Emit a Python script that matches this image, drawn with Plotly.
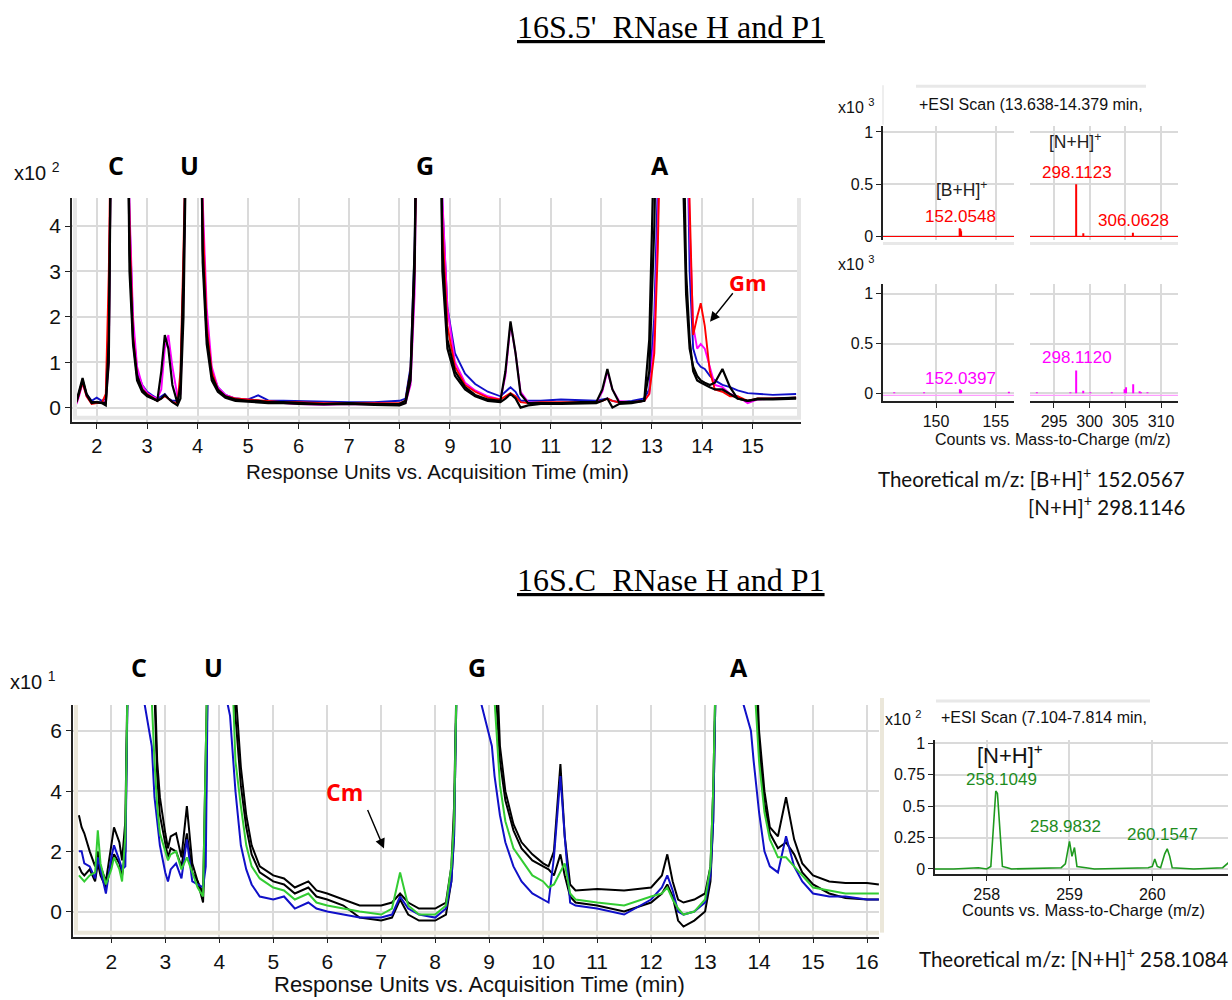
import plotly.graph_objects as go

W, H = 1232, 1000
def fx(p): return p / W
def fy(p): return 1 - p / H

# ---------------- DATA ----------------
# Top chromatogram (x10^2 response units) vs acquisition time (min)
t_top = [1.60,1.65,1.72,1.80,1.90,2.00,2.10,2.18,2.24,2.30,
         2.60,2.65,2.72,2.80,2.90,3.00,3.10,3.20,3.28,3.35,
         3.42,3.50,3.60,3.66,3.72,3.80,4.05,4.10,4.18,4.28,
         4.40,4.55,4.75,5.00,5.20,5.40,5.70,6.00,6.50,7.00,
         7.50,8.00,8.12,8.22,8.30,8.36,8.80,8.85,8.95,9.10,
         9.30,9.50,9.75,10.00,10.10,10.20,10.30,10.40,10.55,10.80,
         11.20,11.60,11.90,12.02,12.12,12.22,12.35,12.60,12.85,12.95,
         13.05,13.12,13.20,13.60,13.68,13.75,13.82,13.90,13.97,14.05,
         14.15,14.25,14.40,14.55,14.70,14.90,15.10,15.40,15.86]
top_black1 = [0.15,0.35,0.65,0.30,0.12,0.12,0.10,0.05,1.50,8.0,
              8.0,3.5,1.5,0.70,0.40,0.28,0.22,0.15,0.80,1.60,
              1.30,0.50,0.10,0.50,3.0,8.0,8.0,3.5,1.6,0.70,
              0.40,0.25,0.18,0.15,0.15,0.12,0.12,0.10,0.08,0.10,
              0.08,0.08,0.15,0.80,3.5,8.0,8.0,3.5,1.5,0.80,
              0.45,0.28,0.18,0.15,0.80,1.90,1.20,0.30,0.10,0.10,
              0.10,0.12,0.12,0.40,0.85,0.40,0.12,0.12,0.15,1.5,
              6.0,8.0,8.0,6.0,2.5,1.3,0.90,0.70,0.60,0.55,
              0.50,0.55,0.85,0.45,0.20,0.15,0.20,0.20,0.22]
top_black2 = [0.12,0.30,0.60,0.28,0.10,0.12,0.10,0.10,1.00,8.0,
              8.0,3.0,1.4,0.60,0.35,0.25,0.20,0.15,0.20,0.28,
              0.20,0.12,0.05,0.20,2.0,8.0,8.0,3.2,1.4,0.60,
              0.35,0.22,0.15,0.13,0.12,0.10,0.10,0.08,0.07,0.08,
              0.06,0.05,0.10,0.60,3.0,8.0,8.0,3.0,1.3,0.70,
              0.40,0.25,0.15,0.12,0.20,0.30,0.20,0.00,0.05,0.08,
              0.08,0.10,0.10,0.15,0.20,0.00,0.08,0.10,0.15,0.8,
              4.0,8.0,8.0,8.0,3.0,1.5,0.80,0.60,0.55,0.50,
              0.45,0.40,0.40,0.30,0.20,0.15,0.18,0.18,0.20]
top_blue = [0.18,0.30,0.55,0.30,0.15,0.22,0.15,0.20,2.0,8.0,
            8.0,4.2,1.8,0.80,0.50,0.35,0.27,0.20,0.25,0.30,
            0.20,0.15,0.15,0.40,3.0,8.0,8.0,4.0,1.8,0.80,
            0.45,0.28,0.20,0.18,0.27,0.16,0.15,0.14,0.12,0.12,
            0.12,0.15,0.20,0.90,3.5,8.0,8.0,4.5,2.2,1.20,
            0.75,0.52,0.35,0.25,0.35,0.45,0.35,0.15,0.15,0.15,
            0.18,0.16,0.15,0.18,0.20,0.15,0.12,0.15,0.20,0.4,
            2.0,5.0,8.0,8.0,8.0,3.0,1.3,1.0,0.90,0.85,
            0.70,0.60,0.50,0.45,0.38,0.32,0.30,0.28,0.30]
top_red = [0.12,0.30,0.55,0.25,0.08,0.10,0.10,0.30,3.0,8.0,
           8.0,4.0,1.6,0.70,0.40,0.30,0.22,0.15,0.20,0.25,
           0.20,0.12,0.10,0.80,3.5,8.0,8.0,4.2,1.8,0.80,
           0.40,0.25,0.20,0.18,0.15,0.15,0.12,0.12,0.10,0.10,
           0.10,0.10,0.15,0.80,3.2,8.0,8.0,4.0,1.8,0.90,
           0.50,0.35,0.22,0.18,0.25,0.32,0.25,0.12,0.10,0.12,
           0.12,0.12,0.12,0.15,0.20,0.15,0.12,0.12,0.15,0.3,
           1.2,3.5,8.0,8.0,8.0,4.5,1.6,2.0,2.3,1.8,
           0.80,0.40,0.35,0.25,0.25,0.15,0.20,0.20,0.22]
top_magenta = [0.08,0.25,0.55,0.25,0.10,0.12,0.10,0.15,1.0,8.0,
               8.0,4.4,2.0,0.90,0.50,0.32,0.25,0.20,0.40,1.30,
               1.60,0.90,0.25,0.30,2.5,8.0,8.0,4.6,2.2,0.90,
               0.45,0.28,0.20,0.17,0.16,0.12,0.10,0.08,0.06,0.08,
               0.07,0.06,0.10,0.50,2.5,8.0,8.0,4.6,2.2,1.00,
               0.55,0.38,0.25,0.18,0.70,1.85,1.20,0.35,0.12,0.10,
               0.10,0.12,0.12,0.35,0.80,0.40,0.15,0.12,0.15,0.3,
               1.5,4.0,8.0,8.0,8.0,4.0,1.8,1.3,1.4,1.3,
               0.90,0.50,0.45,0.30,0.25,0.10,0.18,0.20,0.22]

# Bottom chromatogram (x10^1 response units)
t_bot = [1.40,1.45,1.50,1.60,1.70,1.75,1.80,1.90,2.00,2.05,
         2.15,2.20,2.26,2.32,2.75,2.80,2.85,2.90,3.00,3.05,
         3.10,3.20,3.30,3.40,3.50,3.60,3.70,3.75,3.80,4.20,
         4.30,4.40,4.50,4.60,4.75,5.00,5.20,5.40,5.65,5.80,
         6.00,6.30,6.60,7.00,7.20,7.35,7.50,7.70,8.00,8.20,
         8.30,8.35,8.42,9.05,9.10,9.20,9.30,9.45,9.60,9.80,
         10.00,10.10,10.20,10.32,10.40,10.50,10.60,11.00,11.50,12.00,
         12.20,12.30,12.40,12.50,12.60,12.80,13.00,13.10,13.15,13.22,
         13.85,13.90,14.00,14.10,14.20,14.35,14.50,14.65,14.80,15.00,
         15.30,15.60,16.00,16.22]
bot_black1 = [3.2,2.8,2.6,2.0,1.5,2.0,1.5,1.0,2.2,2.8,
              2.3,1.7,3.0,10,10,8,5.0,3.8,2.6,2.1,
              2.5,2.6,1.8,3.5,1.6,1.0,0.6,5.0,10,10,
              7.5,4.8,3.2,2.2,1.5,1.2,1.1,0.8,1.0,0.7,
              0.6,0.4,0.2,0.2,0.3,0.6,0.3,0.1,0.1,0.3,
              1.5,3.5,10,10,10,5.5,4.0,2.9,2.3,1.9,
              1.6,1.5,2.0,4.9,2.5,0.9,0.7,0.75,0.7,0.8,
              1.2,1.9,1.0,0.4,0.3,0.4,0.6,1.5,4.0,10,
              10,10,6.0,4.0,2.8,2.5,3.8,2.4,1.6,1.2,
              1.0,0.95,0.95,0.9]
bot_black2 = [1.5,1.3,1.2,1.4,1.0,1.6,1.2,0.8,1.6,1.9,
              1.6,1.2,2.0,10,10,7,4.5,3.2,2.2,1.8,
              2.1,2.0,1.5,2.6,1.3,1.0,0.3,3.0,10,10,
              6.5,4.2,2.8,1.9,1.3,1.0,0.9,0.6,0.8,0.5,
              0.4,0.2,-0.2,-0.3,-0.2,0.4,-0.1,-0.3,-0.3,-0.1,
              1.0,2.5,10,10,8,5.0,3.7,2.7,2.1,1.7,
              1.5,1.4,1.2,1.9,1.2,0.5,0.3,0.2,0.0,0.3,
              0.6,0.9,0.5,-0.3,-0.5,-0.3,0.0,1.0,3.0,10,
              10,10,5.5,3.6,2.6,2.1,2.3,1.9,1.3,0.9,
              0.6,0.45,0.4,0.4]
bot_blue = [2.0,2.0,1.6,1.5,1.1,1.8,1.4,0.6,1.8,2.2,
            1.7,1.4,1.5,10,5.5,3.8,3.0,2.2,1.3,1.0,
            1.4,1.6,1.1,2.4,1.0,0.9,0.8,1.5,10,6.5,
            4.0,2.2,1.4,0.9,0.5,0.4,0.5,0.1,0.3,0.1,
            0.0,-0.1,-0.2,-0.2,-0.1,0.5,0.1,-0.1,-0.2,0.1,
            1.0,2.5,10,5.5,4.5,3.2,2.3,1.5,1.0,0.6,
            0.4,0.3,1.8,4.5,2.5,0.3,0.2,0.1,-0.1,0.4,
            0.8,1.2,0.7,0.0,-0.1,0.0,0.3,1.2,3.0,10,
            6.0,5.0,3.3,2.0,1.5,1.3,2.5,1.5,1.0,0.6,
            0.5,0.5,0.4,0.4]
bot_green = [1.2,1.1,1.0,1.2,1.3,2.7,1.6,0.9,1.4,1.8,
             1.4,1.0,2.5,10,7,5.0,3.5,2.6,2.0,1.7,
             1.9,2.0,1.4,1.8,1.3,0.8,0.5,6.0,10,10,
             5.0,3.5,2.2,1.5,1.1,0.8,0.7,0.4,0.6,0.3,
             0.2,0.1,0.0,-0.1,0.1,1.3,0.2,-0.1,-0.1,0.2,
             1.5,3.0,10,10,7,4.2,3.0,2.1,1.7,1.2,
             1.0,0.8,0.9,1.3,1.6,0.6,0.4,0.3,0.2,0.5,
             0.6,0.8,0.4,0.1,-0.1,0.0,0.4,1.5,4.0,10,
             10,8,5.0,3.3,2.4,1.8,1.8,1.5,1.2,0.8,
             0.7,0.6,0.6,0.6]

for arr in (top_black1, top_black2, top_blue, top_red, top_magenta):
    assert len(arr) == len(t_top), len(arr)
for arr in (bot_black1, bot_black2, bot_blue, bot_green):
    assert len(arr) == len(t_bot), len(arr)

# Mass spectra top (x10^3 counts), stick centroids
ms_red_b_mz = [151.98, 152.05, 152.10]
ms_red_b_int = [0.08, 0.07, 0.05]
ms_red_n_mz = [298.11, 299.11, 306.06]
ms_red_n_int = [0.50, 0.03, 0.035]
ms_mag_b_mz = [146.5, 149.0, 152.0, 152.1, 156.1]
ms_mag_b_int = [0.012, 0.012, 0.04, 0.03, 0.015]
ms_mag_n_mz = [292.6, 297.3, 298.11, 299.1, 300.1, 303.1, 304.9, 305.1, 306.1, 307.0, 307.2, 308.1]
ms_mag_n_int = [0.012, 0.012, 0.23, 0.025, 0.012, 0.012, 0.04, 0.06, 0.09, 0.02, 0.012, 0.012]

# Mass spectrum bottom (x10^2 counts), profile
ms_green_mz = [257.37,257.60,257.90,258.00,258.05,258.08,258.11,258.13,258.16,258.19,
               258.25,258.30,258.90,258.95,259.00,259.03,259.06,259.09,259.20,259.30,
               259.95,260.00,260.03,260.06,260.10,260.15,260.18,260.21,260.24,260.50,
               260.85,260.92]
ms_green_int = [0.0,0.0,0.01,0.0,0.02,0.30,0.62,0.60,0.30,0.02,
                0.01,0.0,0.01,0.04,0.22,0.10,0.17,0.02,0.01,0.0,
                0.01,0.02,0.08,0.02,0.01,0.12,0.16,0.10,0.01,0.0,
                0.01,0.05]

# ---------------- FIGURE ----------------
fig = go.Figure()

def line(x, y, color, width, xa, ya):
    fig.add_trace(go.Scatter(x=x, y=y, mode="lines", line=dict(color=color, width=width),
                             xaxis=xa, yaxis=ya, showlegend=False, hoverinfo="skip"))

def sticks(mz, inten):
    xs, ys = [], []
    for m, h in zip(mz, inten):
        xs += [m, m, None]
        ys += [0, h, None]
    return xs, ys

# axis ranges
r_top_x = [1.5105, 15.957]; r_top_y = [-0.312, 4.617]
r_bot_x = [1.2905, 16.222]; r_bot_y = [-0.832, 6.865]
r_b_x = [145.56, 156.53]; r_n_x = [291.64, 312.38]
r_ms_top_y = [-0.03, 1.059]; r_ms_bot_y = [-0.077, 1.096]
r_g_x = [257.376, 260.914]; r_g_y = [-0.042, 1.029]

# top chromatogram
line(t_top, top_blue, "#1010c8", 1.9, "x", "y")
line(t_top, top_magenta, "#ff00ff", 1.9, "x", "y")
line(t_top, top_red, "#ff0000", 1.9, "x", "y")
line(t_top, top_black2, "#000000", 2.2, "x", "y")
line(t_top, top_black1, "#000000", 2.2, "x", "y")

# top MS panels
line(r_b_x, [0, 0], "#ff0000", 1.2, "x2", "y2")
sx, sy = sticks(ms_red_b_mz, ms_red_b_int); line(sx, sy, "#ff0000", 2.0, "x2", "y2")
line(r_n_x, [0, 0], "#ff0000", 1.2, "x3", "y3")
sx, sy = sticks(ms_red_n_mz, ms_red_n_int); line(sx, sy, "#ff0000", 2.0, "x3", "y3")
line(r_b_x, [-0.02, -0.02], "#ff9cff", 1.2, "x4", "y4")
sx, sy = sticks(ms_mag_b_mz, ms_mag_b_int); line(sx, sy, "#ff00ff", 2.0, "x4", "y4")
line(r_n_x, [-0.02, -0.02], "#ff9cff", 1.2, "x5", "y5")
sx, sy = sticks(ms_mag_n_mz, ms_mag_n_int); line(sx, sy, "#ff00ff", 2.0, "x5", "y5")

# bottom chromatogram
line(t_bot, bot_black2, "#000000", 2.0, "x6", "y6")
line(t_bot, bot_black1, "#000000", 2.0, "x6", "y6")
line(t_bot, bot_blue, "#1010c8", 2.0, "x6", "y6")
line(t_bot, bot_green, "#33cc33", 2.0, "x6", "y6")

# bottom MS
line(ms_green_mz, ms_green_int, "#1e9a1e", 1.6, "x7", "y7")

FONT = "Liberation Sans"
GRID = "#dadada"

def xax(dom, rng, tickvals, labels=True, showline=True, size=18, gw=2, ticks="outside"):
    return dict(domain=[fx(dom[0]), fx(dom[1])], range=rng, tickvals=tickvals,
                showticklabels=labels, showgrid=True, gridcolor=GRID, gridwidth=gw,
                zeroline=False, showline=showline, linecolor="#222", linewidth=1.5,
                ticks=ticks if showline else "", ticklen=5, tickcolor="#222",
                tickfont=dict(family=FONT, size=size, color="#111"), fixedrange=True)

def yax(dom, rng, tickvals, ticktext=None, labels=True, showline=True, size=18, gw=2):
    d = dict(domain=[fy(dom[1]), fy(dom[0])], range=rng, tickvals=tickvals,
             showticklabels=labels, showgrid=True, gridcolor=GRID, gridwidth=gw,
             zeroline=False, showline=showline, linecolor="#222", linewidth=1.5,
             ticks="outside" if showline else "", ticklen=5, tickcolor="#222",
             tickfont=dict(family=FONT, size=size, color="#111"), fixedrange=True)
    if ticktext is not None:
        d["ticktext"] = ticktext
    return d

ms_y_ticks = [0, 0.5, 1]; ms_y_text = ["0", "0.5", "1"]
fig.update_layout(
    width=W, height=H, margin=dict(l=0, r=0, t=0, b=0),
    paper_bgcolor="white", plot_bgcolor="white", showlegend=False,
    xaxis=xax((72, 801), r_top_x, list(range(2, 16)), size=20),
    yaxis=yax((195, 421), r_top_y, [0, 1, 2, 3, 4], size=21),
    xaxis2=dict(xax((883, 1014), r_b_x, [150, 155], labels=False, showline=False, gw=1.5), anchor="y2"),
    yaxis2=dict(yax((122, 237), r_ms_top_y, ms_y_ticks, ms_y_text, size=16, gw=1.5), anchor="x2"),
    xaxis3=dict(xax((1030, 1178), r_n_x, [295, 300, 305, 310], labels=False, showline=False, gw=1.5), anchor="y3"),
    yaxis3=dict(yax((122, 237), r_ms_top_y, ms_y_ticks, labels=False, showline=False, gw=1.5), anchor="x3"),
    xaxis4=dict(xax((883, 1014), r_b_x, [150, 155], size=16, gw=1.5), anchor="y4"),
    yaxis4=dict(yax((282, 400), r_ms_bot_y, ms_y_ticks, ms_y_text, size=16, gw=1.5), anchor="x4"),
    xaxis5=dict(xax((1030, 1178), r_n_x, [295, 300, 305, 310], size=16, gw=1.5), anchor="y5"),
    yaxis5=dict(yax((282, 400), r_ms_bot_y, ms_y_ticks, labels=False, showline=False, gw=1.5), anchor="x5"),
    xaxis6=dict(xax((73, 879), r_bot_x, list(range(2, 17)), size=21), anchor="y6"),
    yaxis6=dict(yax((707, 941), r_bot_y, [0, 2, 4, 6], size=21), anchor="x6"),
    xaxis7=dict(xax((935, 1228), r_g_x, [258, 259, 260], size=16, gw=1.5), anchor="y7"),
    yaxis7=dict(yax((742, 878), r_g_y, [0, 0.25, 0.5, 0.75, 1], ["0", "0.25", "0.5", "0.75", "1"], size=16, gw=1.5), anchor="x7"),
)
fig.layout.xaxis.anchor = "y"
fig.layout.yaxis.anchor = "x"

# decorative frames
shapes = []
def pline(x0, y0, x1, y1, color, width):
    shapes.append(dict(type="line", xref="paper", yref="paper", x0=fx(x0), y0=fy(y0),
                       x1=fx(x1), y1=fy(y1), line=dict(color=color, width=width), layer="above"))
pline(75, 195, 75, 418, "#e6e6e6", 4)
pline(73, 417, 801, 417, "#e6e6e6", 4)
pline(799, 195, 799, 418, "#e6e6e6", 4)
pline(76, 707, 76, 937, "#ebe7da", 4)
pline(74, 937, 879, 937, "#ebe7da", 4)
pline(882, 700, 882, 937, "#ebe7da", 4)
pline(916, 82, 1146, 82, "#e8e8e8", 3)
pline(883, 81, 883, 121, "#eeeeee", 2)
pline(883, 241, 1014, 241, "#e8e8e8", 3)
pline(1030, 241, 1178, 241, "#e8e8e8", 3)
pline(936, 703, 1150, 703, "#e8e8e8", 3)
fig.update_layout(shapes=shapes)

ann = []
def note(text, x, y, size, color="#111", family=FONT, xanchor="center"):
    ann.append(dict(text=text, x=fx(x), y=fy(y), xref="paper", yref="paper", showarrow=False,
                    xanchor=xanchor, yanchor="middle",
                    font=dict(family=family, size=size, color=color)))

SERIF = "Liberation Serif"
BOLD = "Open Sans"
CAL = "Lato"
note("<u>16S.5'\u00a0\u00a0RNase H and P1</u>", 671, 22, 32, "#000", SERIF)
note("<u>16S.C\u00a0\u00a0RNase H and P1</u>", 671, 581, 32, "#000", SERIF)

note("x10 <sup>2</sup>", 12, 168, 20, xanchor="left")
note("x10 <sup>1</sup>", 8, 682, 20, xanchor="left")
for lab, x in (("C", 116), ("U", 189), ("G", 425), ("A", 660)):
    note("<b>%s</b>" % lab, x, 162, 25, "#000", BOLD)
for lab, x in (("C", 139), ("U", 213), ("G", 477), ("A", 739)):
    note("<b>%s</b>" % lab, x, 669, 25, "#000", BOLD)
note("<b>Gm</b>", 748, 280, 22, "#ff0000", BOLD)
note("<b>Cm</b>", 344, 795, 23, "#ff0000", BOLD)
note("Response Units vs. Acquisition Time (min)", 437, 471, 20.5)
note("Response Units vs. Acquisition Time (min)", 479, 989, 22)

note("x10 <sup>3</sup>", 836, 102, 16, xanchor="left")
note("x10 <sup>3</sup>", 836, 261, 16, xanchor="left")
note("+ESI Scan (13.638-14.379 min, ", 917, 101, 16, xanchor="left")
note("[B+H]<sup>+</sup>", 961, 186, 17.5, "#222")
note("152.0548", 960, 214, 17, "#ff0000")
note("[N+H]<sup>+</sup>", 1075, 137, 17.5, "#222")
note("298.1123", 1077, 169, 17, "#ff0000")
note("306.0628", 1133, 218, 17, "#ff0000")
note("152.0397", 960, 377, 17, "#ff00ff")
note("298.1120", 1077, 356, 17, "#ff00ff")
note("Counts vs. Mass-to-Charge (m/z)", 1053, 439, 16)
note("Theoretical m/z: [B+H]<sup>+</sup> 152.0567", 1031, 477, 20.5, "#111", CAL)
note("[N+H]<sup>+</sup> 298.1146", 1187, 506, 20.5, "#111", CAL, xanchor="right")

note("x10 <sup>2</sup>", 883, 720, 16, xanchor="left")
note("+ESI Scan (7.104-7.814 min,", 939, 720, 16, xanchor="left")
note("[N+H]<sup>+</sup>", 1010, 757, 22, "#111")
note("258.1049", 1001, 782, 17, "#1e8c1e")
note("258.9832", 1065, 830, 17, "#1e8c1e")
note("260.1547", 1162, 838, 17, "#1e8c1e")
note("Counts vs. Mass-to-Charge (m/z)", 1083, 914, 16.5)
note("Theoretical m/z: [N+H]<sup>+</sup> 258.1084", 1073, 962, 20.5, "#111", CAL)

def arrow(hx, hy, tx, ty):
    ann.append(dict(text="", x=fx(hx), y=fy(hy), xref="paper", yref="paper", showarrow=True,
                    ax=tx - hx, ay=ty - hy, arrowhead=2, arrowsize=1.4, arrowwidth=1.4,
                    arrowcolor="#000"))
arrow(710, 320, 734, 290)
arrow(384, 852, 367, 812)

fig.update_layout(annotations=ann)
fig.write_html("out.html")
